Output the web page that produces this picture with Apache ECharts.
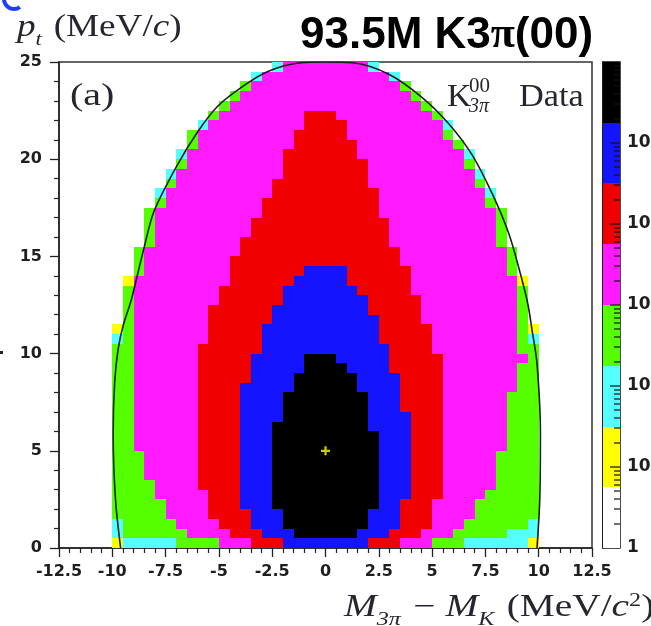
<!DOCTYPE html>
<html>
<head>
<meta charset="utf-8">
<script src="https://cdn.jsdelivr.net/npm/echarts@6/dist/echarts.min.js"></script>
<style>
  html, body { margin: 0; padding: 0; background: #ffffff; }
  #chart { width: 651px; height: 626px; }
</style>
</head>
<body>
<div id="chart"></div>
<script>
// K3pi(00) occupancy: pt versus M(3pi) - M(K), 0.5 x 0.5 MeV bins.
// Each row code is run-length encoded, bottom row (pt 0-0.5) first.
// Letters give the colour band of a bin: Y C G M R B K (low -> high), '.' = empty.
const bandKeys = '.YCGMRBK';
const bandEdges = [1, 5.623, 31.62, 177.8, 1000, 5623, 31623, 177828, 1000000];
const bandColors = ['#ffffff', '#ffff00', '#55ffff', '#55ff00', '#ff1aff', '#f00000', '#1414ff', '#000000'];

const rowCodes = [
  '5. Y 5C 4G 3M 3R 8B 3R 3M 3G 6C Y',
  '5. C 6G 4M 3R 3B 6K 3B 3R 3M 5G 3C',
  '5. C 5G 4M 3R 3B 8K 3B 3R 3M 6G C',
  '5. 5G 4M 4R 3B 8K 3B 3R 4M 6G',
  '5. 5G 4M 3R 3B 10K 2B 3R 4M 6G',
  '5. 4G 5M 3R 3B 10K 3B 3R 4M 5G',
  '5. 4G 4M 4R 3B 10K 3B 3R 5M 4G',
  '5. 3G 5M 4R 3B 10K 3B 3R 5M 4G',
  '5. 3G 5M 4R 3B 10K 3B 3R 5M 4G',
  '5. 3G 5M 4R 3B 10K 3B 3R 5M 4G',
  '5. 2G 6M 4R 3B 10K 3B 3R 6M 3G',
  '5. 2G 6M 4R 3B 10K 3B 3R 6M 3G',
  '5. 2G 6M 4R 3B 9K 4B 3R 6M 3G',
  '5. 2G 6M 4R 4B 8K 4B 3R 6M 3G',
  '5. 2G 6M 4R 4B 8K 3B 4R 6M 3G',
  '5. 2G 6M 4R 4B 8K 3B 4R 6M 3G',
  '5. 2G 6M 4R 5B 6K 4B 4R 7M 2G',
  '5. 2G 6M 5R 4B 6K 4B 4R 7M 2G',
  '5. 2G 6M 5R 5B 4K 4B 5R 7M 2G',
  '5. 2G 6M 5R 5B 3K 5B 5R 8M G',
  '5. 2G 6M 6R 12B 4R 8M 2G',
  '5. C G 7M 5R 11B 5R 8M G C',
  '5. Y G 7M 5R 11B 5R 8M G Y',
  '6. G 7M 6R 10B 4R 9M G',
  '6. G 7M 6R 9B 5R 9M G',
  '6. G 8M 6R 8B 5R 9M G',
  '6. G 8M 6R 7B 5R 10M G',
  '6. Y 9M 6R 5B 6R 10M Y',
  '7. G 8M 7R 4B 6R 9M G',
  '7. G 8M 16R 10M G',
  '7. G 9M 15R 10M G',
  '8. G 8M 14R 10M G',
  '8. G 9M 13R 10M G',
  '8. G 9M 13R 10M G',
  '8. G 10M 11R 11M G',
  '9. G 9M 11R 10M G',
  '9. C 10M 10R 10M C',
  '10. G 9M 9R 10M G',
  '10. C 10M 8R 10M C',
  '11. G 9M 8R 9M G',
  '11. C 9M 7R 10M C',
  '12. G 9M 6R 9M G',
  '12. G 9M 5R 9M G',
  '13. C 9M 4R 9M C',
  '14. G 8M 3R 9M G',
  '15. G 18M G',
  '16. G 16M G',
  '17. G 14M G',
  '18. C 12M C',
  '20. C 8M C'
];

// Kinematic boundary of the decay (MeV/c^2, MeV/c).
const boundaryX = [-9.61, -9.85, -9.96, -9.89, -9.73, -9.5, -9.1, -8.52, -8.05, -6.95, -6.0, -5.08, -3.98, -2.73, -1.17, 0,
                   1.27, 2.99, 4.55, 5.8, 6.89, 7.83, 8.62, 9.24, 9.5, 9.69, 9.92, 10.08, 10.05, 9.92];
const boundaryY = [0, 2.5, 5.9, 8.5, 10.2, 11.4, 12.8, 15.4, 17.3, 19.7, 21.4, 22.7, 23.67, 24.5, 24.96, 25,
                   24.96, 24.36, 23.16, 21.8, 20.2, 18.2, 16.1, 13.7, 12.5, 11.2, 9.5, 5.9, 2.5, 0];

// Fitted centre of the distribution.
const peakPoint = [0, 5];

// Colour-scale axis: decades and the mantissas of its minor ticks.
const cbDecades = [1, 10, 100, 1000, 10000, 100000, 1000000];
const cbMantissas = [2, 3, 4, 5, 6, 7, 8, 9];

// Histogram binning.
const binning = { xMin: -12.5, yMin: 0, w: 0.5, h: 0.5 };

// ---- build the bin list ----
function decodeRow(code) {
  const out = [];
  code.trim().split(/\s+/).forEach(function (tok) {
    const m = tok.match(/^(\d*)(.)$/);
    const n = m[1] ? parseInt(m[1], 10) : 1;
    for (let k = 0; k < n; k++) out.push(m[2]);
  });
  return out;
}
const cells = [];
rowCodes.forEach(function (code, i) {
  decodeRow(code).forEach(function (ch, j) {
    const band = bandKeys.indexOf(ch);
    if (band <= 0) return;
    const count = Math.sqrt(bandEdges[band] * bandEdges[band + 1]);
    cells.push([binning.xMin + binning.w * (j + 0.5), binning.yMin + binning.h * (i + 0.5), count]);
  });
});
const boundary = boundaryX.map(function (x, k) { return [x, boundaryY[k]]; });
const cbBands = bandColors.map(function (c, k) { return [k, bandEdges[k], bandEdges[k + 1]]; });
// colour-scale ticks: [x, value, length in px]
const cbTicks = [];
cbDecades.slice(0, -1).forEach(function (d, k) {
  if (k > 0) cbTicks.push([1, d, 10]);
  cbMantissas.forEach(function (m) { cbTicks.push([1, d * m, 6]); });
});

const ink = '#26262e';
const tickFont = { fontFamily: '"DejaVu Sans", sans-serif', fontWeight: 'bold', fontSize: 16, color: '#1e1e1e' };
const serif = '"Liberation Serif", "Times New Roman", serif';

const chart = echarts.init(document.getElementById('chart'), null, { renderer: 'canvas' });

chart.setOption({
  animation: false,
  backgroundColor: '#ffffff',
  grid: [
    { left: 59, top: 62, width: 533, height: 486, outerBoundsMode: 'none', containLabel: false,
      show: true, borderColor: '#333', borderWidth: 1.5, backgroundColor: 'transparent' },
    { left: 603, top: 62, width: 17, height: 486, outerBoundsMode: 'none', containLabel: false,
      show: true, borderColor: '#111', borderWidth: 1.5, backgroundColor: 'transparent' }
  ],
  xAxis: [
    {
      gridIndex: 0, type: 'value', min: -12.5, max: 12.5, interval: 2.5,
      axisLine: { show: true, onZero: false, lineStyle: { color: '#222', width: 1.5 } },
      axisTick: { show: true, length: 9, lineStyle: { color: '#222', width: 1.3 } },
      minorTick: { show: true, splitNumber: 5, length: 5, lineStyle: { color: '#222', width: 1.2 } },
      splitLine: { show: false },
      axisLabel: Object.assign({ margin: 16 }, tickFont)
    },
    { gridIndex: 1, type: 'value', min: 0, max: 1, show: false }
  ],
  yAxis: [
    {
      gridIndex: 0, type: 'value', min: 0, max: 25, interval: 5,
      axisLine: { show: true, onZero: false, lineStyle: { color: '#222', width: 1.5 } },
      axisTick: { show: true, length: 9, lineStyle: { color: '#222', width: 1.3 } },
      minorTick: { show: true, splitNumber: 5, length: 5, lineStyle: { color: '#222', width: 1.2 } },
      splitLine: { show: false },
      axisLabel: Object.assign({ margin: 17 }, tickFont)
    },
    {
      gridIndex: 1, type: 'log', logBase: 10, min: 1, max: 1000000, position: 'right',
      axisLine: { show: true, lineStyle: { color: '#111', width: 1.5 } },
      axisTick: { show: false },
      splitLine: { show: false },
      axisLabel: Object.assign({
        margin: 7,
        formatter: function (v) {
          if (v >= 999999) return '';
          if (v < 1.5) return '1';
          return '10{e|' + Math.round(Math.log10(v)) + '}';
        },
        rich: { e: { fontFamily: '"DejaVu Sans", sans-serif', fontWeight: 'bold', fontSize: 12, color: '#1e1e1e', padding: [0, 0, 10, 8] } }
      }, tickFont, { fontSize: 17 })
    }
  ],
  visualMap: {
    type: 'piecewise', show: false, seriesIndex: 0, dimension: 2,
    pieces: bandColors.map(function (c, k) { return { gte: bandEdges[k], lt: bandEdges[k + 1], color: c }; })
  },
  series: [
    {
      type: 'custom', xAxisIndex: 0, yAxisIndex: 0, data: cells, clip: true, z: 2,
      renderItem: function (params, api) {
        const x = api.value(0), y = api.value(1);
        const a = api.coord([x - binning.w / 2, y + binning.h / 2]);
        const b = api.coord([x + binning.w / 2, y - binning.h / 2]);
        const x0 = Math.round(a[0]), y0 = Math.round(a[1]);
        const x1 = Math.round(b[0]), y1 = Math.round(b[1]);
        return { type: 'rect', shape: { x: x0, y: y0, width: x1 - x0, height: y1 - y0 }, style: { fill: api.visual('color') } };
      }
    },
    {
      type: 'line', xAxisIndex: 0, yAxisIndex: 0, data: boundary, smooth: 0.3, symbol: 'none', z: 5,
      lineStyle: { color: '#15201a', width: 1.6 }
    },
    {
      type: 'scatter', xAxisIndex: 0, yAxisIndex: 0, data: [peakPoint], z: 6,
      symbol: 'path://M3,0H5V3H8V5H5V8H3V5H0V3H3Z', symbolSize: 9,
      itemStyle: { color: '#ffff00' }
    },
    {
      type: 'custom', xAxisIndex: 1, yAxisIndex: 1, data: cbBands, z: 1,
      renderItem: function (params, api) {
        const a = api.coord([0, api.value(2)]);
        const b = api.coord([1, api.value(1)]);
        return { type: 'rect', shape: { x: a[0], y: Math.round(a[1]), width: b[0] - a[0], height: Math.round(b[1]) - Math.round(a[1]) },
                 style: { fill: bandColors[api.value(0)] } };
      }
    },
    {
      type: 'custom', xAxisIndex: 1, yAxisIndex: 1, data: cbTicks, z: 8, clip: false,
      renderItem: function (params, api) {
        const p = api.coord([api.value(0), api.value(1)]);
        const len = api.value(2);
        return { type: 'rect', shape: { x: p[0] - len, y: Math.round(p[1]) - 0.6, width: len, height: 1.2 },
                 style: { fill: '#111' } };
      }
    }
  ],
  graphic: [
    // fragment of a neighbouring panel letter, top left corner
    { type: 'arc', shape: { cx: 14, cy: -1, r: 10, startAngle: Math.PI * 0.3, endAngle: Math.PI * 1.05 },
      style: { stroke: '#1e3cff', lineWidth: 4, fill: null } },
    { type: 'rect', shape: { x: 0, y: 351, width: 3, height: 3 }, style: { fill: '#222' } },
    // y-axis title
    { type: 'text', x: 17, y: 12, scaleX: 1.2,
      style: { text: '{i|p}{s|t}{n| (MeV/}{i|c}{n|)}',
        rich: {
          i: { fontFamily: serif, fontStyle: 'italic', fontSize: 31, lineHeight: 33, verticalAlign: 'top', fill: ink },
          n: { fontFamily: serif, fontSize: 31, lineHeight: 33, verticalAlign: 'top', fill: ink },
          s: { fontFamily: serif, fontStyle: 'italic', fontSize: 19, lineHeight: 19, padding: [18, 2, 0, 0], verticalAlign: 'top', fill: ink }
        } } },
    // panel tag
    { type: 'text', x: 70, y: 81, scaleX: 1.25,
      style: { text: '(a)', fontFamily: serif, fontSize: 32, fill: ink } },
    // sample label
    { type: 'text', x: 447, y: 82, scaleX: 1.05, style: { text: 'K', fontFamily: serif, fontSize: 32, fill: ink } },
    { type: 'text', x: 469, y: 76, style: { text: '00', fontFamily: serif, fontSize: 21, fill: ink } },
    { type: 'text', x: 469, y: 97, style: { text: '3π', fontFamily: serif, fontStyle: 'italic', fontSize: 20, fill: ink } },
    { type: 'text', x: 519, y: 82, scaleX: 1.07, style: { text: 'Data', fontFamily: serif, fontSize: 32, fill: ink } },
    // title
    { type: 'text', x: 300, y: 14,
      style: { text: '{a|93.5M K3}{p|π}{a|(00)}',
        rich: {
          a: { fontFamily: '"Liberation Sans", Arial, sans-serif', fontWeight: 'bold', fontSize: 44, fill: '#000', verticalAlign: 'top', lineHeight: 46 },
          p: { fontFamily: serif, fontWeight: 'bold', fontSize: 44, fill: '#000', verticalAlign: 'top', lineHeight: 46 }
        } } },
    // x-axis title
    { type: 'text', x: 344, y: 592, scaleX: 1.27,
      style: { text: '{i|M}{s|3π}{n| − }{i|M}{s|K}{n| (MeV/}{i|c}{p|2}{n|)}',
        rich: {
          i: { fontFamily: serif, fontStyle: 'italic', fontSize: 31, lineHeight: 33, verticalAlign: 'top', fill: ink },
          n: { fontFamily: serif, fontSize: 31, lineHeight: 33, verticalAlign: 'top', fill: ink },
          s: { fontFamily: serif, fontStyle: 'italic', fontSize: 19, lineHeight: 19, padding: [18, 2, 0, 0], verticalAlign: 'top', fill: ink },
          p: { fontFamily: serif, fontSize: 19, lineHeight: 19, padding: [0, 0, 13, 0], verticalAlign: 'top', fill: ink }
        } } }
  ]
});
</script>
</body>
</html>
